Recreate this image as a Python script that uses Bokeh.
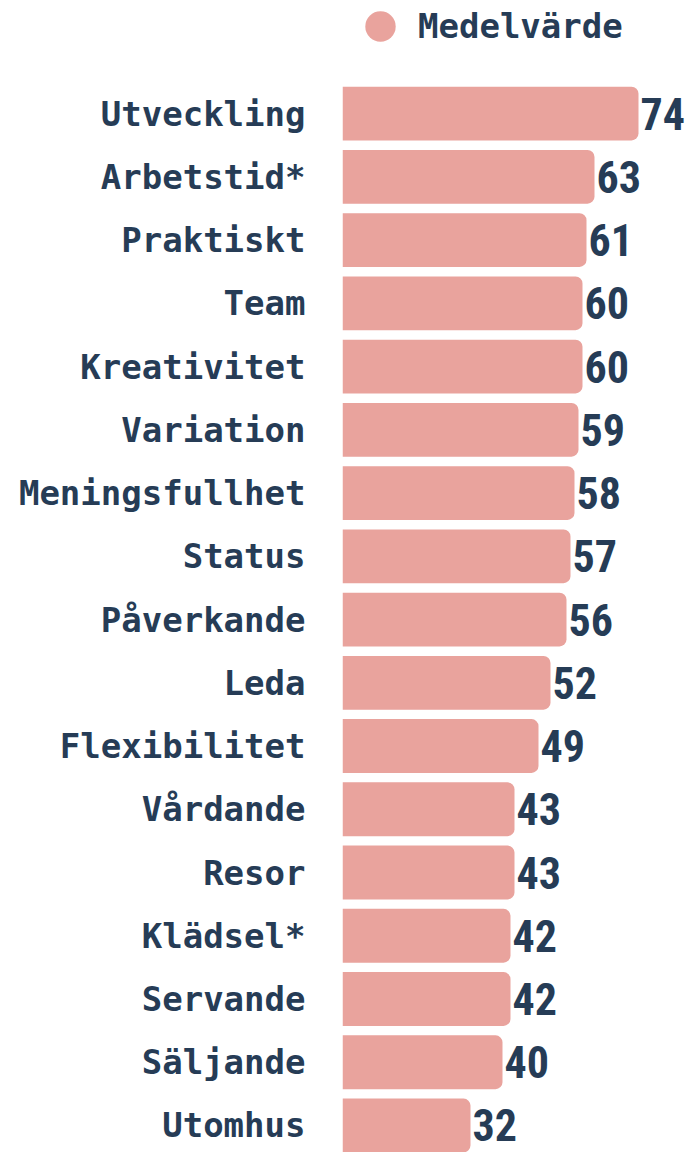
from bokeh.plotting import figure
from bokeh.models import (Range1d, LinearAxis, FixedTicker, Legend, LegendItem,
                          ColumnDataSource)
from bokeh.embed import file_html
from bokeh.resources import INLINE
from bokeh.core.properties import value

categories = ["Utveckling", "Arbetstid*", "Praktiskt", "Team", "Kreativitet",
              "Variation", "Meningsfullhet", "Status", "Påverkande", "Leda",
              "Flexibilitet", "Vårdande", "Resor", "Klädsel*", "Servande",
              "Säljande", "Utomhus"]
values = [74, 63, 61, 60, 60, 59, 58, 57, 56, 52, 49, 43, 43, 42, 42, 40, 32]
series_name = "Medelvärde"

BAR = "#E9A39D"
NAVY = "#263c56"
MONO = "DejaVu Sans Mono"
COND = "Roboto Condensed, Liberation Sans Narrow, DejaVu Sans Condensed, sans-serif"

n = len(categories)
ypos = [n - 1 - i for i in range(n)]
src = ColumnDataSource(dict(y=ypos, v=values, lab=[str(v) for v in values]))

W, H = 685, 1152
LEFT = 342
p = figure(width=W, height=H, output_backend="svg", toolbar_location=None,
           x_range=Range1d(0, (W - LEFT) / 4.0),
           y_range=Range1d(-0.427, 17.787),
           min_border_left=LEFT, min_border_right=0, min_border_top=0,
           min_border_bottom=0, x_axis_location=None, y_axis_location=None)
p.outline_line_color = None
p.background_fill_color = "white"
p.border_fill_color = "white"
p.xgrid.visible = False
p.ygrid.visible = False

p.hbar(y="y", right="v", left=0, height=0.85, source=src, fill_color=BAR,
       line_color=None, border_radius=(0, 7, 7, 0))

p.text(x="v", y="y", text="lab", source=src, x_offset=2, text_align="left",
       text_baseline="middle", text_font=value(COND), text_font_style="bold",
       text_font_size="44px", text_color=NAVY)

ax = LinearAxis(ticker=FixedTicker(ticks=ypos),
                major_label_overrides={y: c for y, c in zip(ypos, categories)},
                axis_line_color=None, major_tick_line_color=None,
                minor_tick_line_color=None, major_tick_out=0, major_tick_in=0,
                major_label_standoff=37, major_label_text_font=MONO,
                major_label_text_font_style="bold",
                major_label_text_font_size="34px",
                major_label_text_color=NAVY)
p.add_layout(ax, "left")

# legend swatch: a zero-size marker renderer, only used for its legend entry
swatch = p.scatter(x="v", y="y", source=src, size=0, marker="circle",
                   fill_color=BAR, line_color=None)
legend = Legend(items=[LegendItem(label=series_name, renderers=[swatch])],
                location=(0, 1082), orientation="horizontal",
                glyph_width=76, glyph_height=88, label_standoff=0,
                padding=0, margin=0, border_line_color=None,
                background_fill_alpha=0, label_text_font=MONO,
                label_text_font_style="bold", label_text_font_size="34px",
                label_text_color=NAVY)
p.add_layout(legend)

open("out.html", "w").write(file_html(p, INLINE))
